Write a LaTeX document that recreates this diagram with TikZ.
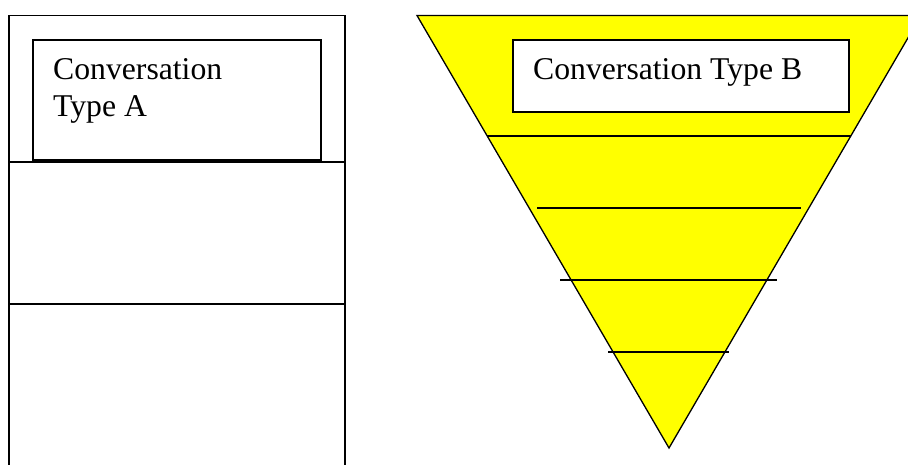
\documentclass[tikz,border=0pt]{standalone}
\usepackage{fontspec}
\setmainfont{Liberation Serif}
\definecolor{funnelyellow}{RGB}{255,255,0}
\begin{document}
\begin{tikzpicture}[x=1pt,y=-1pt,
  ln/.style={line width=1.3pt,draw=black},
  lbl/.style={inner sep=0pt,anchor=base west,font=\fontsize{31.7pt}{37pt}\selectfont}]
\useasboundingbox (0,0) rectangle (908,465);
\clip (0,0) rectangle (908,465);
% left column
\draw[ln] (9,466) -- (9,15.5) -- (345,15.5) -- (345,466);
\draw[ln] (9,162) -- (345,162);
\draw[ln] (9,304) -- (345,304);
\draw[ln,fill=white] (33,40) rectangle (321,160);
\node[lbl] (a1) at (53,80) {Conversation};
\node[lbl] (a2) at (53,117) {Type A};
% funnel
\draw[ln,fill=funnelyellow] (417,15.5) -- (921,15.5) -- (669,448) -- cycle;
\draw[ln] (487,136) -- (851,136);
\draw[ln] (537,208) -- (801,208);
\draw[ln] (560,280) -- (777,280);
\draw[ln] (608,352) -- (729,352);
\draw[ln,fill=white] (513,40) rectangle (849,112);
\node[lbl] (b1) at (533,80) {Conversation Type B};
\end{tikzpicture}
\end{document}
